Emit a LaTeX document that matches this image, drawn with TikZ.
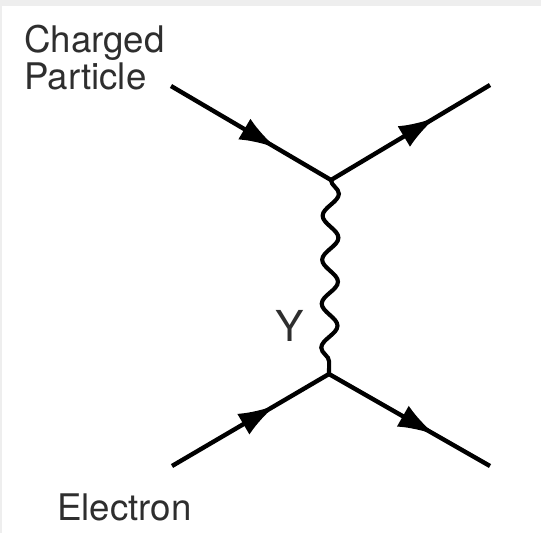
\documentclass[tikz,border=0pt]{standalone}
\usepackage{fontspec}
\setmainfont{TeX Gyre Heros}
\usetikzlibrary{arrows.meta,decorations.markings,decorations.pathmorphing}
\definecolor{bggray}{HTML}{EEEEEE}
\definecolor{txtgray}{HTML}{2E2E2E}
\begin{document}
\begin{tikzpicture}[x=0.75pt,y=-0.75pt,
  fermion/.style={line width=3.3pt, line join=round, postaction={decorate},
    decoration={markings, mark=at position 0.66 with {\arrow{Latex[length=28pt,width=18pt]}}}},
  photon/.style={line width=3.1pt, decorate,
    decoration={snake, amplitude=6pt, segment length=33pt}},
  lbl/.style={inner sep=0pt, text=txtgray, font=\fontsize{27.5pt}{28pt}\selectfont}]
  % background with thin gray frame strips
  \fill[bggray] (0,0) rectangle (541,533);
  \fill[white] (2,6) rectangle (541,533);
  \useasboundingbox (0,0) rectangle (541,533);
  % vertices and free ends
  \coordinate (v1) at (331,180);
  \coordinate (v2) at (329,374);
  \coordinate (a) at (171,86);
  \coordinate (b) at (490,85);
  \coordinate (c) at (172,466);
  \coordinate (d) at (490,466);
  % fermion lines
  \draw[fermion] (a) -- (v1);
  \draw[fermion] (v1) -- (b);
  \draw[fermion] (c) -- (v2);
  \draw[fermion] (v2) -- (d);
  % photon
  \draw[photon] (v1) -- (v2);
  % labels
  \node[lbl, anchor=north west, align=left] (cp) at (24,25) {Charged\\Particle};
  \node[lbl, anchor=base west] (el) at (57,520) {Electron};
  \node[lbl, font=\fontsize{32pt}{33pt}\selectfont] (gam) at (290,326) {Y};
\end{tikzpicture}
\end{document}
